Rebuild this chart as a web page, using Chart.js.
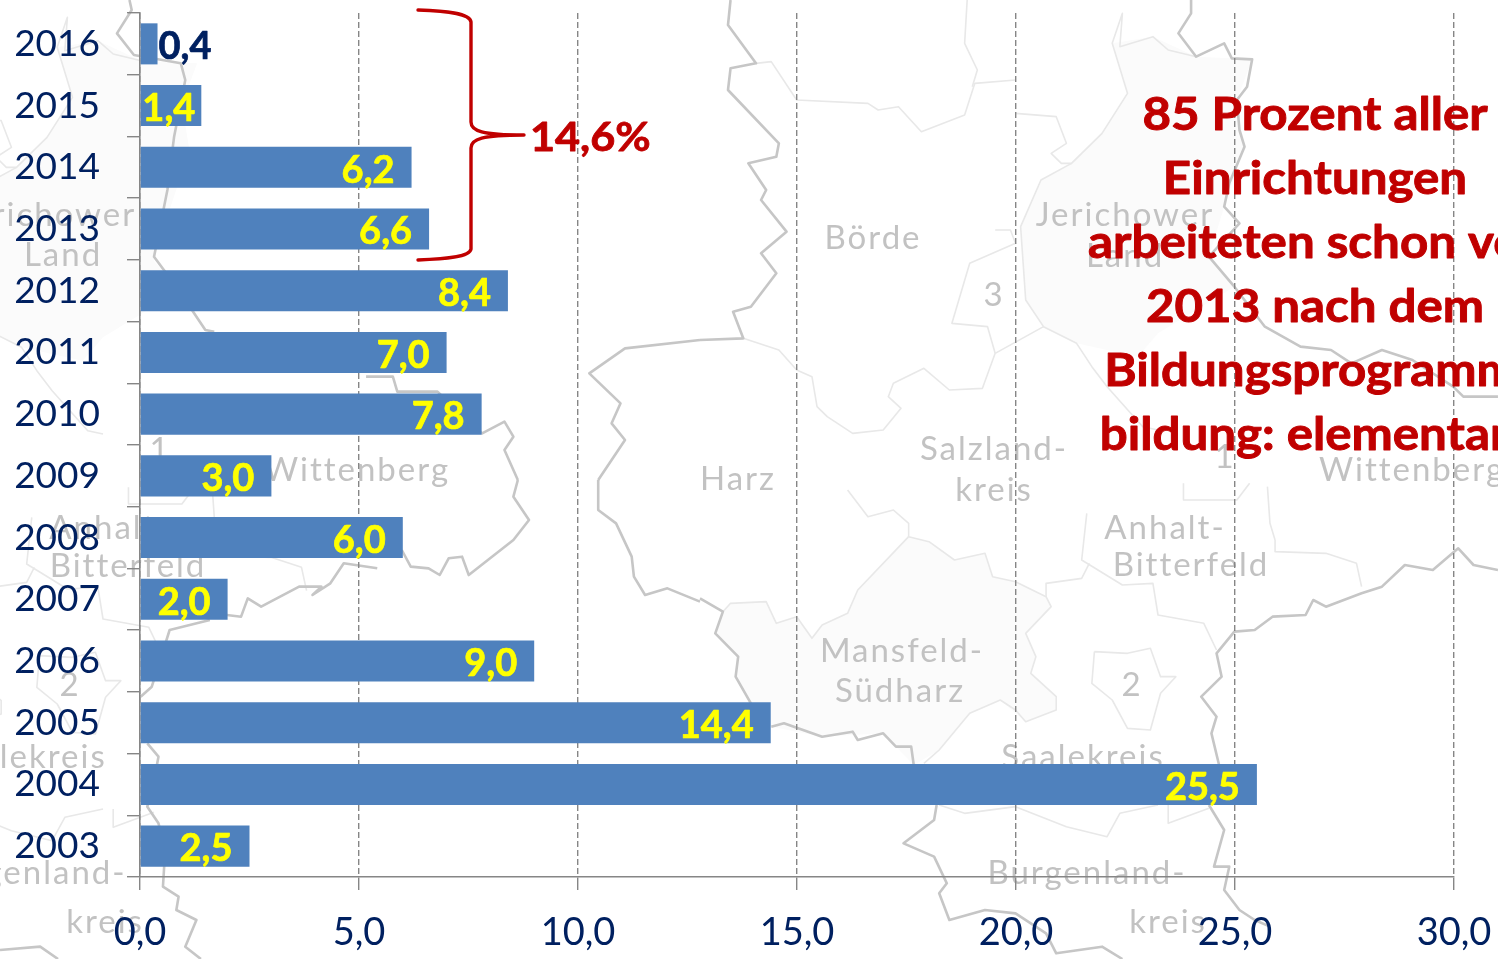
<!DOCTYPE html>
<html><head><meta charset="utf-8">
<style>html,body{margin:0;padding:0;background:#fff;overflow:hidden}canvas{display:block}</style>
<script src="https://cdn.jsdelivr.net/npm/chart.js@4"></script></head>
<body><canvas id="c" width="1498" height="959"></canvas>
<script>
const years=['2016','2015','2014','2013','2012','2011','2010','2009','2008','2007','2006','2005','2004','2003'];
const shares=[0.4,1.4,6.2,6.6,8.4,7.0,7.8,3.0,6.0,2.0,9.0,14.4,25.5,2.5];
const noteLines=['85 Prozent aller','Einrichtungen','arbeiteten schon vor','2013 nach dem','Bildungsprogramm','bildung: elementar'];
const noteCentres=[1315,1315,1314,1315,1311,1304];
const braceLabel='14,6%';
const mapLabels=[['Börde',873,238],['Jerichower',1125,215],['Land',1125,256],['3',994,295],['Harz',738,479],['Salzland-',994,449],['kreis',994,490],['Wittenberg',1412,470],['Wittenberg',357,470],['1',1225,457],['1',160,450],['Anhalt-',1165,528],['Anhalt-',110,528],['Bitterfeld',1191,565],['Bitterfeld',128,566],['Mansfeld-',902,651],['Südharz',900,691],['2',1132,685],['2',70,685],['Saalekreis',1083,757],['Saalekreis',25,757],['Burgenland-',1087,873],['Burgenland-',27,873],['kreis',1168,922],['kreis',105,922],['Jerichower',47,215],['Land',63,255]];
// decorative background map outlines, traced per view window
const V={a:p=>[p[0]/2.24,p[1]/3],b:p=>[p[0]/2.24,480+p[1]/3],c:p=>[700+p[0]/1.965,p[1]/3],d:p=>[700+p[0]/1.965,480+p[1]/3]};
const thick=[
['a',[[290,0],[295,30],[262,100],[300,165],[405,190],[415,240],[390,410],[375,570],[345,770],[395,860],[460,990],[480,995]]],
['a',[[820,1130],[880,1130],[890,1175],[980,1175],[1080,1300],[1130,1265],[1150,1310],[1130,1350],[1160,1440]]],
['b',[[1160,0],[1150,50],[1185,120],[1150,180],[1050,285],[1035,230],[1005,235],[985,285],[960,265],[920,260],[900,210]]],
['b',[[845,265],[770,250],[740,310],[700,345],[720,320],[670,320],[585,380],[555,355],[540,410],[508,405]]],
['b',[[470,420],[380,450],[340,620],[315,650]]],
['b',[[330,790],[355,830],[345,900],[330,980],[355,1030],[370,1110],[365,1220],[400,1250],[395,1290],[440,1320],[415,1400],[450,1437]]],
['b',[[0,1410],[90,1400],[130,1437]]],
['a',[[1568,1020],[1400,1045],[1320,1120],[1390,1210],[1370,1270],[1400,1320],[1340,1440]]],
['b',[[1340,0],[1340,90],[1380,130],[1415,230],[1420,290],[1445,345],[1495,325],[1568,365]]],
['d',[[0,355],[45,395],[30,460],[75,530],[70,590],[100,670]]],
['d',[[140,740],[165,730],[240,770],[300,755],[310,780],[360,760],[385,800],[415,800],[420,855]]],
['d',[[465,975],[460,1020],[400,1090],[460,1130],[485,1210],[470,1240],[490,1320],[560,1290],[620,1300],[680,1360],[700,1420],[790,1400],[830,1437]]],
['d',[[1000,975],[1030,1050],[1010,1160],[1040,1160],[1030,1230],[1060,1290],[1090,1320],[1120,1340]]],
['d',[[1020,855],[1005,760],[1015,710],[985,650],[1025,590],[1015,520],[1050,455],[1090,450],[1125,410],[1190,405],[1205,360],[1230,380],[1300,340],[1340,320],[1385,255],[1440,270],[1490,205],[1520,255],[1568,270]]],
['c',[[965,0],[965,40],[940,100],[975,170],[1030,130],[1045,175],[1085,178],[1075,260],[1055,300],[1060,390],[1070,440],[1040,550],[1030,620],[1060,670],[1000,770],[1050,860],[1110,980],[1180,1040],[1240,1050],[1280,1090],[1340,1050],[1400,1080],[1480,1160],[1500,1190],[1568,1190]]],
['c',[[60,0],[55,75],[110,190],[60,205],[55,270],[155,430],[150,470],[95,490],[130,570],[120,600],[170,695],[120,760],[150,820],[100,920],[65,935],[85,1015],[0,1020]]]
];
const thin=[
['c',[[110,190],[140,185],[190,300],[330,310],[350,330],[390,320],[435,395],[520,345],[540,250],[620,240]]],
['c',[[525,0],[520,130],[545,210],[535,260]]],
['c',[[620,340],[700,350],[720,430],[690,460],[710,490],[730,490],[790,400],[840,280],[810,130],[830,40],[825,140],[890,110],[920,150],[975,170]]],
['c',[[730,490],[670,540],[630,680],[640,900],[675,980],[740,1030],[770,1100],[800,1160],[870,1280],[900,1290]]],
['c',[[580,690],[610,690],[620,730],[530,790],[495,970],[565,980],[580,1060]]],
['c',[[675,980],[580,1060],[555,1165],[490,1170],[440,1105],[380,1150],[370,1190],[395,1225],[360,1290],[300,1300],[250,1250],[230,1220],[220,1130],[190,1110],[155,1050],[85,1015]]],
['d',[[290,30],[330,110],[380,90],[410,130],[410,170],[450,185],[500,240],[560,220],[575,290],[620,305],[680,350],[690,380],[640,460],[660,530],[650,580],[700,650],[700,690],[640,725],[620,690],[590,660],[530,700],[470,810],[440,850]]],
['d',[[410,170],[310,330],[290,400],[240,435],[220,475],[190,410],[150,430],[130,365],[60,370],[45,395]]],
['d',[[760,100],[750,240],[830,315],[890,310],[900,405],[990,430],[1015,510]]],
['d',[[680,350],[680,310],[750,295],[765,250]]],
['d',[[1130,180],[1130,215],[1230,220],[1290,250],[1300,320]]],
['d',[[1080,10],[1055,60],[950,60],[950,10]]],
['d',[[1115,20],[1120,130],[1130,180]]],
['d',[[775,515],[840,520],[885,505],[905,590],[935,590],[905,640],[885,750],[840,745],[810,660],[770,610],[775,515]]],
['d',[[470,975],[520,1000],[620,980],[720,1040],[800,1070],[825,1000],[900,975]]],
['d',[[920,975],[920,1030],[1000,985]]]
];
const paleAreas=[
['d',[[410,170],[310,330],[290,400],[240,435],[220,475],[190,410],[150,430],[130,365],[60,370],[45,395],[30,460],[75,530],[70,590],[100,670],[140,740],[240,770],[360,760],[420,855],[470,810],[530,700],[590,660],[640,725],[700,690],[700,650],[650,580],[660,530],[640,460],[690,380],[680,350],[620,305],[575,290],[560,220],[500,240],[450,185]]],
['c',[[810,130],[890,110],[975,170],[1085,178],[1055,300],[1070,440],[1030,620],[1000,770],[1050,860],[900,1000],[860,1070],[740,1030],[675,980],[640,900],[630,680],[670,540],[730,490],[790,400],[840,280]]]
];
const NAVY='#002060',RED='#C00000',GREY='#868686';
function path(ctx,s,dx,dy){const f=V[s[0]];ctx.beginPath();s[1].forEach((p,i)=>{const q=f(p);i?ctx.lineTo(q[0]+dx,q[1]+dy):ctx.moveTo(q[0]+dx,q[1]+dy);});}
function heavy(ctx,t,x,y,w,sx){ctx.save();ctx.translate(x,y);ctx.scale(sx||1,1);ctx.lineWidth=w;ctx.lineJoin='round';ctx.strokeStyle=ctx.fillStyle;ctx.strokeText(t,0,0);ctx.fillText(t,0,0);ctx.restore();}
const mapPlugin={id:'map',beforeDraw(ch){const ctx=ch.ctx;ctx.save();ctx.fillStyle='#fff';ctx.fillRect(0,0,1498,959);
 ctx.lineJoin='round';
 [[0,0],[-1055,4]].forEach(o=>{ctx.fillStyle='#fbfbfb';paleAreas.forEach(s=>{path(ctx,s,o[0],o[1]);ctx.closePath();ctx.fill();});
  ctx.strokeStyle='#e8e8e8';ctx.lineWidth=1.6;thin.forEach(s=>{path(ctx,s,o[0],o[1]);ctx.stroke();});});
 ctx.strokeStyle='#c6c6c6';ctx.lineWidth=2.6;thick.forEach(s=>{path(ctx,s,0,0);ctx.stroke();});
 ctx.fillStyle='#c2c2c2';ctx.font='33px Lato';ctx.letterSpacing='2px';ctx.textAlign='center';ctx.textBaseline='middle';
 mapLabels.forEach(l=>ctx.fillText(l[0],l[1],l[2]));ctx.restore();}};
const labelPlugin={id:'labels',afterDatasetsDraw(ch){const ctx=ch.ctx,bars=ch.getDatasetMeta(0).data;ctx.save();ctx.font='bold 38px Lato';ctx.textBaseline='middle';
 shares.forEach((v,i)=>{const b=bars[i],t=v.toFixed(1).replace('.',',');
  if(v<1){ctx.fillStyle=NAVY;ctx.textAlign='left';heavy(ctx,t,b.x+1,b.y+3,0.7);}
  else if(v<2){ctx.fillStyle='#FFFF00';ctx.textAlign='right';heavy(ctx,t,b.x-6,b.y+3,0.7);}
  else{ctx.fillStyle='#FFFF00';ctx.textAlign='right';heavy(ctx,t,b.x-17,b.y+3,0.7);}});
 ctx.restore();},
 afterDraw(ch){const ctx=ch.ctx;ctx.save();ctx.strokeStyle=RED;ctx.lineWidth=3.4;ctx.lineCap='round';ctx.lineJoin='round';
 ctx.beginPath();ctx.moveTo(418,10);ctx.bezierCurveTo(445,11,470,13,471,22);ctx.lineTo(471,122);ctx.bezierCurveTo(471,131,482,135,524,135);
 ctx.moveTo(524,135);ctx.bezierCurveTo(482,135,471,139,471,148);ctx.lineTo(471,249);ctx.bezierCurveTo(470,257,445,259,418,260);ctx.stroke();
 ctx.fillStyle=RED;ctx.textBaseline='middle';ctx.font='bold 40px Lato';ctx.textAlign='left';heavy(ctx,braceLabel,530,138,0.8,1.08);
 ctx.font='bold 45px Lato';ctx.textAlign='center';noteLines.forEach((t,i)=>heavy(ctx,t,noteCentres[i],115+i*64,0.9,1.095));ctx.restore();}};
new Chart(document.getElementById('c'),{type:'bar',
 data:{labels:years,datasets:[{data:shares,backgroundColor:'#4F81BD',categoryPercentage:1,barPercentage:0.665}]},
 plugins:[mapPlugin,labelPlugin],
 options:{indexAxis:'y',responsive:false,animation:false,
  layout:{autoPadding:false,padding:{top:13,right:44,left:0,bottom:0}},
  plugins:{legend:{display:false},tooltip:{enabled:false},title:{display:false}},
  scales:{
   x:{type:'linear',min:0,max:30,position:'bottom',afterFit(a){a.height=82;a.paddingLeft=0;a.paddingRight=0;a.paddingTop=0;a.paddingBottom=0;},
    border:{color:GREY,width:1.6,dash:[6,3]},
    grid:{color:GREY,lineWidth:1.4,tickColor:GREY,tickLength:13,tickBorderDash:[],drawOnChartArea:true},
    ticks:{stepSize:5,padding:20,color:NAVY,font:{family:'Lato',size:38},maxRotation:0,callback:v=>v.toFixed(1).replace('.',',')}},
   y:{type:'category',afterFit(a){a.width=140;a.paddingLeft=0;a.paddingRight=0;a.paddingTop=0;a.paddingBottom=0;},
    border:{color:GREY,width:1.6},
    grid:{drawOnChartArea:false,color:GREY,tickColor:GREY,tickLength:13,lineWidth:1.4},
    ticks:{padding:27,color:NAVY,font:{family:'Lato',size:37},autoSkip:false}}
  }}});
</script></body></html>
